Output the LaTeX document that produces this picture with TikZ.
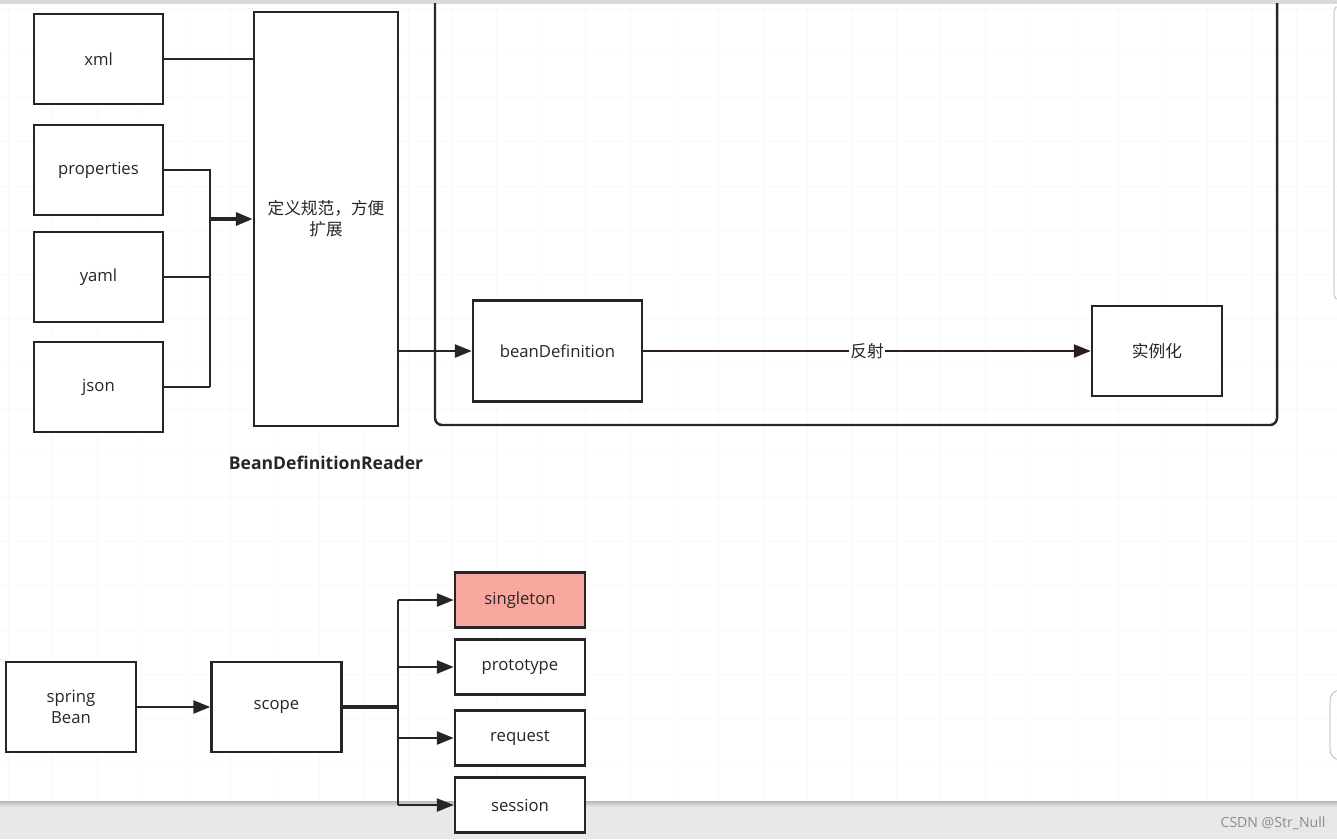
\documentclass[tikz,border=0pt]{standalone}
\usepackage{fontspec}
\setmainfont{Open Sans}
\newfontfamily\cjk{Noto Sans CJK SC}
\usetikzlibrary{arrows.meta, positioning}
\definecolor{singlefill}{RGB}{248,168,158}
\definecolor{reflectline}{RGB}{45,28,32}

\begin{document}
\begin{tikzpicture}[
  x=0.02cm, y=-0.02cm,
  box/.style={
    rectangle,
    draw=black!85,
    fill=#1,
    line width=1.4pt,
    minimum width=2.6cm,
    minimum height=1.8cm,
    inner sep=1pt,
    text=black!85,
    font=\fontsize{9.5}{12}\selectfont,
    align=center
  },
  box/.default=white,
  scopebox/.style={
    box=#1,
    minimum height=1.1cm
  },
  scopebox/.default=white,
  link/.style={
    line width=1.4pt,
    draw=black!85
  },
  flow/.style={
    -{Triangle[length=0.34cm, width=0.26cm]},
    line width=1.4pt,
    draw=black!85
  },
  gridline/.style={
    draw=black!2.5,
    line width=0.4pt
  }
]
\useasboundingbox (0,0) rectangle (1337,839);

% Background
\fill[white] (0,0) rectangle (1337,839);
\foreach \gx in {8.3,52.7,...,1337} \draw[gridline] (\gx,0) -- (\gx,800);
\foreach \gy in {8.3,52.7,...,800} \draw[gridline] (0,\gy) -- (1337,\gy);
\draw[black!15, line width=2pt] (0,2) -- (1337,2);
\fill[black!9] (0,805) rectangle (1337,839);
\fill[top color=black!28, bottom color=black!9] (0,801) rectangle (1337,807);
\draw[black!30, rounded corners=3pt] (1345,6) -- (1334,6) -- (1334,300) -- (1345,300);
\draw[black!30, rounded corners=6pt] (1345,690) -- (1330,690) -- (1330,760) -- (1345,760);

% Sources
\node[box, minimum width=2.58cm] (xml) at (98.5,59) {xml};
\node[box, minimum width=2.58cm] (props) at (98.5,170) {properties};
\node[box, minimum width=2.58cm] (yaml) at (98.5,277) {yaml};
\node[box, minimum width=2.58cm] (json) at (98.5,387) {json};

% Reader
\node[box, minimum width=2.88cm, minimum height=8.28cm] (reader) at (326,219) {\cjk 定义规范，方便\\\cjk 扩展};
\node[font=\bfseries\fontsize{10}{12}\selectfont, text=black!85] (readerlabel) at (326,463) {BeanDefinitionReader};

% Container
\draw[link, rounded corners=4pt] (435,3) -- (435,425) -- (1277,425) -- (1277,3);
\node[box, minimum width=3.38cm, minimum height=2.02cm] (beandef) at (557.5,351) {beanDefinition};
\node[box] (inst) at (1157,351) {\cjk 实例化};

% Connections
\coordinate (merge) at (210,387);
\draw[link] (xml.east) -- (xml.east -| reader.west);
\draw[link] (props.east) -| (merge);
\draw[link] (yaml.east) -- (yaml.east -| merge);
\draw[link] (json.east) -- (merge);
\draw[flow, line width=2pt] (merge |- reader.west) -- (reader.west);
\draw[flow] (reader.east |- beandef) -- (beandef.west);
\draw[flow, draw=reflectline] (beandef) -- node[fill=white, inner sep=1pt, text=black!85, font=\cjk\fontsize{9.5}{12}\selectfont] (reflect) {反射} (inst);

% Scope
\node[box] (bean) at (71,707) {spring\\Bean};
\node[box] (scope) at (276.5,707) {scope};
\node[scopebox=singlefill] (singleton) at (520,600) {singleton};
\node[scopebox] (prototype) at (520,667) {prototype};
\node[scopebox] (request) at (520,738) {request};
\node[scopebox] (session) at (520,805) {session};

\coordinate (fork) at (398,707);
\draw[flow] (bean) -- (scope);
\draw[link, line width=2pt] (scope.east) -- (fork);
\draw[link] (fork |- singleton.west) -- (fork |- session.west);
\foreach \s in {singleton, prototype, request, session}
  \draw[flow] (fork |- \s.west) -- (\s.west);

% Watermark
\node[text=black!45, font=\fontsize{8}{10}\selectfont] (csdn) at (1273,823) {CSDN @Str\_Null};
\end{tikzpicture}
\end{document}
